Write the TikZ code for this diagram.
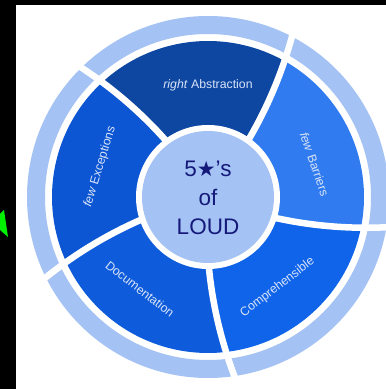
\documentclass[tikz,border=0pt]{standalone}
\usepackage{fontspec}
\setmainfont{Liberation Sans}
\newfontfamily\symfont{DejaVu Sans}
\definecolor{absc}{HTML}{0D47A1}
\definecolor{barc}{HTML}{2F7BEF}
\definecolor{compc}{HTML}{0F64EA}
\definecolor{docc}{HTML}{0E5CDB}
\definecolor{excc}{HTML}{0C56D3}
\definecolor{ringc}{HTML}{A4C2F4}
\definecolor{ctrc}{HTML}{A4C2F4}
\definecolor{lblc}{HTML}{D9E4F8}
\definecolor{navy}{HTML}{15197A}
\definecolor{arrowg}{HTML}{00F000}
\tikzset{
  lbl/.style={text=lblc, font=\fontsize{12.3}{14}\selectfont, inner sep=0pt},
  ctrtext/.style={text=navy, font=\fontsize{22.5}{29}\selectfont, align=center, inner sep=0pt},
  gapline/.style={white, line width=6.5pt}
}
\begin{document}
\begin{tikzpicture}[x=1pt,y=1pt]
\useasboundingbox (0,0) rectangle (386,389);
\clip (0,0) rectangle (386,389);
\fill[black] (0,0) rectangle (386,389);
\fill[white] (16,0) rectangle (386,384);
\fill[arrowg] (0,175) -- (4,179) -- (8,152) -- (0,159) -- cycle;
\begin{scope}[shift={(208,192)}]
  \fill[ringc, even odd rule] (0,0) circle[radius=181] (0,0) circle[radius=163];
  \foreach \a/\c in {54/absc,126/excc,198/docc,270/compc,342/barc}{
    \fill[\c] plot[domain=60:156, samples=12, variable=\q] ({\a+(\q-60)*0.0692}:\q)
      arc[start angle={\a+96*0.0692}, end angle={\a+72+96*0.0692}, radius=156]
      -- plot[domain=156:60, samples=12, variable=\q] ({\a+72+(\q-60)*0.0692}:\q)
      arc[start angle={\a+72}, end angle={\a}, radius=60] -- cycle;
  }
  \foreach \a in {54,126,198,270,342}{
    \draw[gapline] plot[smooth, domain=58:192, samples=14, variable=\q] ({\a+(\q-60)*0.0692}:\q);
  }
  \fill[white] (0,0) circle[radius=72];
  \fill[ctrc] (0,0) circle[radius=66];
  \node[lbl] (abs) at (0,112) {\textit{right} Abstraction};
  \node[lbl, rotate=-71] (bar) at (106.5,32.8) {\textit{few} Barriers};
  \node[lbl, rotate=37.5] (comp) at (69.5,-90.5) {Comprehensible};
  \node[lbl, rotate=-37.5] (doc) at (-68,-92) {Documentation};
  \node[lbl, rotate=73] (exc) at (-108,30.3) {\textit{few} Exceptions};
  \node[ctrtext] (ctr) at (0,-1) {5{\symfont\fontsize{21}{29}\selectfont★}'s\\of\\LOUD};
\end{scope}
\end{tikzpicture}
\end{document}
